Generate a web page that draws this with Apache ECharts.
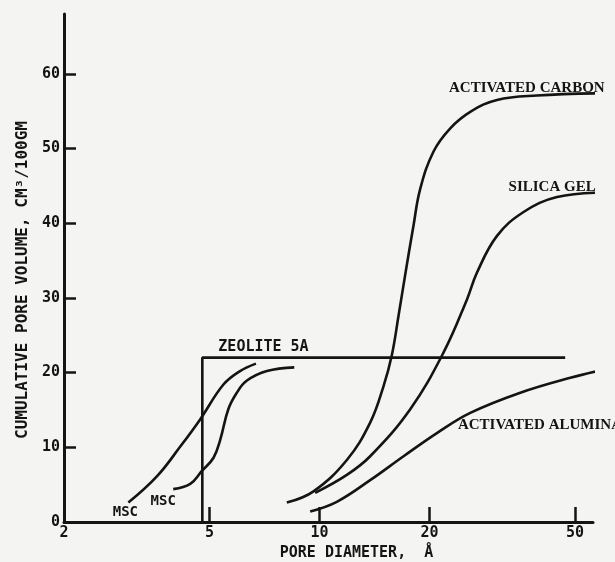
<!DOCTYPE html>
<html>
<head>
<meta charset="utf-8">
<script src="https://cdn.jsdelivr.net/npm/echarts@6/dist/echarts.min.js"></script>
<style>
html,body{margin:0;padding:0;background:#f4f4f2;}
#c{width:615px;height:562px;}
</style>
</head>
<body>
<div id="c"></div>
<script>
// ---- data (pore diameter in Å, cumulative pore volume cm3/100gm) ----
const xTickLabels = [2, 5, 10, 20, 50];
const yTickLabels = [0, 10, 20, 30, 40, 50, 60];

const msc1X = [3.00, 3.59, 4.16, 4.71, 5.46, 6.06, 6.70];
const msc1Y = [2.6, 6.1, 10.1, 13.7, 18.4, 20.2, 21.2];

const msc2X = [3.98, 4.43, 4.76, 5.13, 5.35, 5.63, 5.94, 6.32, 7.18, 8.53];
const msc2Y = [4.4, 5.1, 6.8, 8.6, 11.0, 15.1, 17.3, 18.9, 20.2, 20.7];

const zeoliteX = [4.78, 4.78, 47.0];
const zeoliteY = [0, 22.0, 22.0];

const carbonX = [8.14, 9.63, 11.88, 13.76, 14.97, 15.78, 16.45, 17.25, 18.08, 18.86, 20.51, 22.79, 25.85, 30.59, 39.36, 59.9];
const carbonY = [2.6, 4.1, 8.3, 13.3, 18.2, 22.4, 27.6, 33.8, 39.7, 44.6, 49.6, 52.7, 54.9, 56.5, 57.1, 57.4];

const silicaX = [9.73, 11.88, 13.76, 17.71, 21.85, 25.32, 26.97, 30.59, 36.17, 44.65, 59.9];
const silicaY = [3.9, 6.3, 8.8, 15.1, 22.7, 29.8, 33.4, 38.3, 41.5, 43.5, 44.1];

const aluminaX = [9.43, 11.15, 13.76, 16.98, 20.95, 25.85, 35.43, 48.56, 61.2];
const aluminaY = [1.4, 2.7, 5.6, 8.8, 11.9, 14.6, 17.3, 19.3, 20.5];

const names = {
  msc: 'MSC',
  zeolite: 'ZEOLITE 5A',
  carbon: 'ACTIVATED CARBON',
  silica: 'SILICA GEL',
  alumina: 'ACTIVATED ALUMINA'
};

// ---- build ----
const INK = '#141414';
const mono = '"DejaVu Sans Mono", "Liberation Mono", monospace';
const serif = '"Liberation Serif", "DejaVu Serif", serif';

function pts(xs, ys, labelIdx, labelOpt) {
  return xs.map((x, i) => {
    const item = { value: [x, ys[i]] };
    if (i === labelIdx) item.label = Object.assign({ show: true }, labelOpt);
    return item;
  });
}

function lineSeries(name, data, smooth) {
  return {
    name: name,
    type: 'line',
    data: data,
    smooth: smooth,
    clip: false,
    showSymbol: true,
    symbol: 'circle',
    symbolSize: 0,
    lineStyle: { color: INK, width: 2.6 },
    itemStyle: { color: INK },
    label: { show: false },
    emphasis: { disabled: true },
    silent: true,
    animation: false
  };
}

const chart = echarts.init(document.getElementById('c'), null, { renderer: 'canvas' });

const option = {
  backgroundColor: '#f4f4f2',
  animation: false,
  grid: { left: 64, right: 22, top: 14, bottom: 40, containLabel: false, outerBoundsMode: 'none' },
  xAxis: {
    type: 'log',
    logBase: 10,
    min: 2,
    max: 56,
    name: 'PORE DIAMETER,  Å',
    nameLocation: 'middle',
    nameGap: 24,
    nameTextStyle: { color: INK, fontFamily: mono, fontWeight: 'bold', fontSize: 15, padding: [0, 0, 0, 56] },
    axisLine: { show: true, lineStyle: { color: INK, width: 3 } },
    axisTick: { show: true, inside: true, length: 15, lineStyle: { color: INK, width: 2.5 }, customValues: xTickLabels.slice(1) },
    axisLabel: { show: true, color: INK, fontFamily: mono, fontWeight: 'bold', fontSize: 15, margin: 4, customValues: xTickLabels, formatter: v => String(Math.round(v)) },
    splitLine: { show: false },
    minorTick: { show: false },
    minorSplitLine: { show: false }
  },
  yAxis: {
    type: 'value',
    min: 0,
    max: 68,
    interval: 10,
    name: 'CUMULATIVE PORE VOLUME, CM³/100GM',
    nameLocation: 'middle',
    nameGap: 32,
    nameRotate: 90,
    nameTextStyle: { color: INK, fontFamily: mono, fontWeight: 'bold', fontSize: 16, padding: [0, 24, 0, 0] },
    axisLine: { show: true, lineStyle: { color: INK, width: 3 } },
    axisTick: { show: true, inside: true, length: 12, lineStyle: { color: INK, width: 2.5 }, customValues: yTickLabels.slice(1) },
    axisLabel: { show: true, color: INK, fontFamily: mono, fontWeight: 'bold', fontSize: 15, margin: 4, customValues: yTickLabels },
    splitLine: { show: false }
  },
  series: [
    lineSeries('MSC-1', pts(msc1X, msc1Y, 0, {
      formatter: names.msc, position: 'bottom', offset: [-3, -2],
      color: INK, fontFamily: mono, fontWeight: 'bold', fontSize: 14
    }), 0.4),
    lineSeries('MSC-2', pts(msc2X, msc2Y, 0, {
      formatter: names.msc, position: 'bottom', offset: [-10, 0],
      color: INK, fontFamily: mono, fontWeight: 'bold', fontSize: 14
    }), 0.4),
    lineSeries(names.zeolite, pts(zeoliteX, zeoliteY, 1, {
      formatter: names.zeolite, position: 'top', align: 'left', offset: [16, 2],
      color: INK, fontFamily: mono, fontWeight: 'bold', fontSize: 15
    }), false),
    lineSeries(names.carbon, pts(carbonX, carbonY, carbonX.length - 1, {
      formatter: names.carbon, position: 'top', align: 'right', offset: [1, 7],
      color: INK, fontFamily: serif, fontWeight: 'bold', fontSize: 15
    }), 0.4),
    lineSeries(names.silica, pts(silicaX, silicaY, silicaX.length - 1, {
      formatter: names.silica, position: 'top', align: 'right', offset: [-8, 7],
      color: INK, fontFamily: serif, fontWeight: 'bold', fontSize: 15
    }), 0.4),
    lineSeries(names.alumina, pts(aluminaX, aluminaY, 4, {
      formatter: names.alumina, position: 'right', align: 'left', offset: [16, -8],
      color: INK, fontFamily: serif, fontWeight: 'bold', fontSize: 15
    }), 0.4)
  ]
};

chart.setOption(option);
</script>
</body>
</html>
